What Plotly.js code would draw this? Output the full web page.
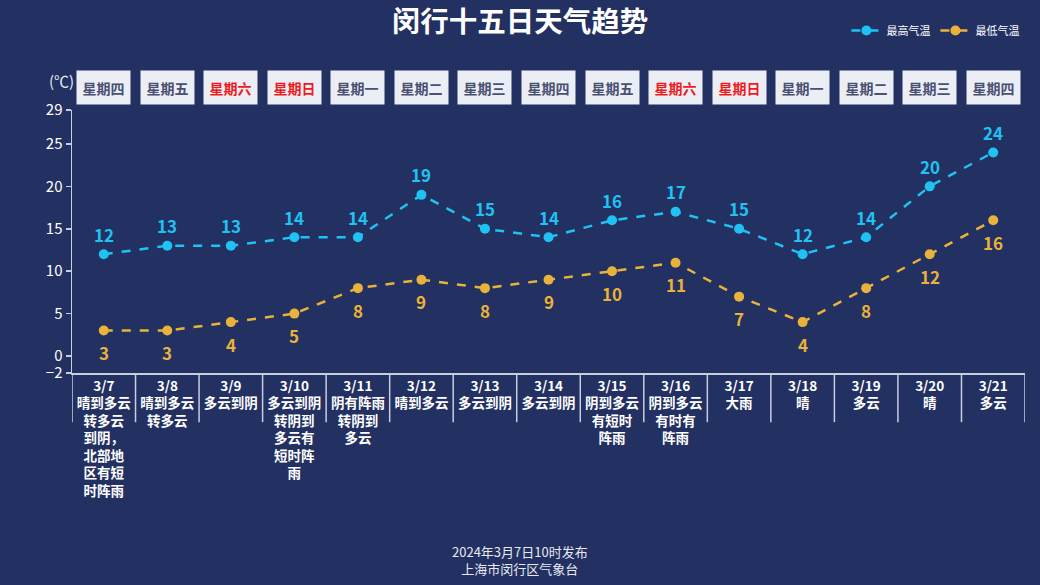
<!DOCTYPE html>
<html><head><meta charset="utf-8">
<script src="https://cdn.plot.ly/plotly-3.0.1.min.js"></script>
<style>html,body{margin:0;padding:0;background:#233062;}</style>
</head><body><div id="chart" style="width:1040px;height:585px;"></div>
<script>
const dates = ["3/7","3/8","3/9","3/10","3/11","3/12","3/13","3/14","3/15","3/16","3/17","3/18","3/19","3/20","3/21"];
const weather = ["晴到多云<br>转多云<br>到阴，<br>北部地<br>区有短<br>时阵雨","晴到多云<br>转多云","多云到阴","多云到阴<br>转阴到<br>多云有<br>短时阵<br>雨","阴有阵雨<br>转阴到<br>多云","晴到多云","多云到阴","多云到阴","阴到多云<br>有短时<br>阵雨","阴到多云<br>有时有<br>阵雨","大雨","晴","多云","晴","多云"];
const weekdays = ["星期四","星期五","星期六","星期日","星期一","星期二","星期三","星期四","星期五","星期六","星期日","星期一","星期二","星期三","星期四"];
const highTemp = [12,13,13,14,14,19,15,14,16,17,15,12,14,20,24];
const lowTemp = [3,3,4,5,8,9,8,9,10,11,7,4,8,12,16];
const yTicks = [-2,0,5,10,15,20,25,29];

const FONT = '"Noto Sans CJK SC", "Noto Sans", sans-serif';
const HIGH = '#1fc3f3', LOW = '#e9b23a';
const cats = dates.map((d,i)=>i);
const tickText = dates.map((d,i)=>'<b>'+d+'<br>'+weather[i]+'</b>');

const traces = [
  {x:cats, y:highTemp, name:'最高气温', type:'scatter', mode:'lines+markers',
   line:{color:HIGH, width:2.5, dash:'dash'}, marker:{color:HIGH, size:10}, hoverinfo:'skip'},
  {x:cats, y:lowTemp, name:'最低气温', type:'scatter', mode:'lines+markers',
   line:{color:LOW, width:2.5, dash:'dash'}, marker:{color:LOW, size:10}, hoverinfo:'skip'}
];

const annotations = [];
weekdays.forEach((w,i)=>annotations.push({
  x:i, xref:'x', y:1.085, yref:'paper', yanchor:'middle', xanchor:'center',
  text:'<b>'+w+'</b>', showarrow:false,
  font:{size:14, family:FONT, color:(w==='星期六'||w==='星期日')?'#ee1c1c':'#4a5072'},
  bgcolor:'#eceef5', width:51, height:31
}));
highTemp.forEach((v,i)=>annotations.push({x:i, y:v, xref:'x', yref:'y', yshift:20, showarrow:false,
  text:'<b>'+v+'</b>', font:{size:17, family:FONT, color:HIGH}}));
lowTemp.forEach((v,i)=>annotations.push({x:i, y:v, xref:'x', yref:'y', yshift:-22, showarrow:false,
  text:'<b>'+v+'</b>', font:{size:17, family:FONT, color:LOW}}));
annotations.push({x:-0.011, xref:'paper', y:1.114, yref:'paper', xanchor:'center', yanchor:'middle',
  text:'(℃)', showarrow:false, font:{size:15, family:FONT, color:'#e8eaf2'}});
annotations.push({x:0.47, xref:'paper', y:-0.71, yref:'paper', xanchor:'center', yanchor:'middle',
  text:'2024年3月7日10时发布<br>上海市闵行区气象台', showarrow:false,
  font:{size:13, family:FONT, color:'#e8eaf2'}});

const shapes = [];
for (let i=0;i<=dates.length;i++){
  shapes.push({type:'line', xref:'x', yref:'paper', x0:i-0.5, x1:i-0.5, y0:0, y1:-0.187,
    line:{color:'#c9cde0', width:1.5}});
}

const layout = {
  width:1040, height:585,
  paper_bgcolor:'#233062', plot_bgcolor:'#233062',
  margin:{l:72, r:15, t:110, b:212},
  font:{family:FONT, color:'#ffffff'},
  title:{text:'<b>闵行十五日天气趋势</b>', x:0.5, xanchor:'center', y:0.962, yanchor:'middle',
    font:{size:28.5, family:FONT, color:'#ffffff'}},
  showlegend:true,
  legend:{orientation:'h', xref:'container', yref:'container', x:0.985, xanchor:'right', y:0.948, yanchor:'middle',
    font:{size:11, family:FONT, color:'#ffffff'}, bgcolor:'rgba(0,0,0,0)', itemwidth:30, tracegroupgap:0},
  xaxis:{range:[-0.5,14.5], tickvals:cats, ticktext:tickText, ticks:'', showgrid:false, zeroline:false,
    showline:true, linecolor:'#c9cde0', linewidth:1.5,
    tickfont:{size:13.5, family:FONT, color:'#ffffff'}, fixedrange:true},
  yaxis:{range:[-2,29], tickvals:yTicks, ticks:'outside', ticklen:5, tickcolor:'#c9cde0', tickwidth:1.5,
    showgrid:false, zeroline:false, showline:true, linecolor:'#c9cde0', linewidth:1.5,
    tickfont:{size:15, family:FONT, color:'#ffffff'}, fixedrange:true},
  annotations:annotations, shapes:shapes
};
Plotly.newPlot('chart', traces, layout, {displayModeBar:false, staticPlot:true});
</script></body></html>
